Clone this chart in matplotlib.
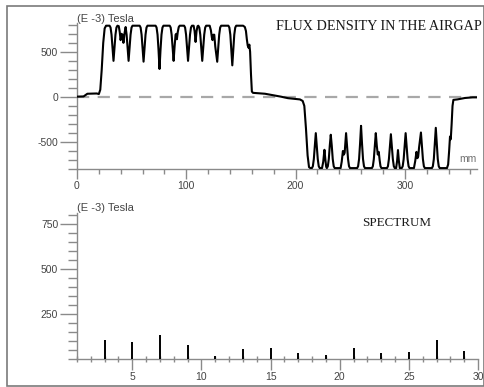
# Air-gap flux density along the stator bore and its harmonic spectrum

import matplotlib
matplotlib.use('Agg')
import matplotlib.pyplot as plt
from matplotlib.patches import Rectangle
from matplotlib.ticker import MultipleLocator

plt.rcParams['font.family'] = 'Liberation Sans'
plt.rcParams['axes.unicode_minus'] = False

# flux density trace: position (mm) and field (E-3 Tesla)
pos_mm = [
    0, 6, 9.5, 18, 20, 21.3, 22.6, 24, 25.3, 26.6,
    29.8, 30.7, 31.6, 32.5, 33.4, 34.3, 35.2, 36.1, 37,
    38.2, 39.1, 39.9, 40.8, 41.6, 42.5, 43.4, 44.5,
    45.4, 46.3, 47.2, 48.1, 49, 49.9, 50.8,
    57.3, 58.2, 59.1, 60, 60.9, 61.8, 62.7, 63.6, 64.5,
    71.9, 72.8, 73.7, 74.6, 75.5, 76.4, 77.3, 78.2, 79.1,
    84.8, 85.7, 86.6, 87.5, 88.4, 89.3, 90.2, 90.8, 91.4, 92.2, 93.1, 94,
    98, 98.9, 99.8, 100.7, 101.6, 102.5, 103.4, 104.3, 105.2,
    106.7, 107.6, 108.5, 109.4, 110.3,
    111, 111.9, 112.8, 113.7, 114.6, 115.5, 116.4, 117.3, 118.2,
    121.4, 122.5, 123.4, 124, 124.8, 125.6, 126.5, 127.4, 128.3, 129.2, 130.1, 131, 131.9,
    138.5, 139.4, 140.3, 141.2, 142.1, 143, 143.9, 144.8, 145.7,
    152, 153.6, 154.6, 155.4, 156.2, 157, 157.7, 158.4, 159.2, 160, 161,
    166, 172, 180, 186.5, 193, 198.8, 204, 206.5, 208, 209.5, 211, 212.3, 213.5,
    214.9, 215.8, 216.7, 217.6, 218.5, 219.4, 220.3, 221.2, 222.1,
    224.2, 225.3, 226.4, 227.3, 228,
    228.6, 229.5, 230.4, 231.3, 232.2, 233.1, 234, 234.9, 235.8,
    241.2, 242.2, 243.3, 244.2, 244.9, 245.5, 246.2, 247.1, 248, 248.9, 249.8,
    256.3, 257.2, 258.1, 259, 259.9, 260.8, 261.7, 262.6, 263.5,
    269.8, 270.7, 271.6, 272.5, 273.4, 274.3, 275.2, 276.1, 276.9, 277.7, 278.6,
    283.6, 284.5, 285.4, 286.3, 287.2, 288.1, 289, 289.9, 290.8,
    292, 292.9, 293.7, 294.5, 295.4,
    297.1, 298, 298.9, 299.8, 300.7, 301.6, 302.5, 303.4, 304.3,
    308.3, 309.5, 310.6, 311.5, 312.2, 313, 313.9, 314.7, 315.6, 316.5, 317.4, 318.3,
    324.7, 325.6, 326.5, 327.4, 328.3, 329.2, 330.1, 331, 331.9,
    338.5, 339.6, 340.5, 341.3, 342, 342.8, 343.6, 344.4, 348, 355, 362, 366,
]
flux = [
    3, 5, 35, 38, 32, 80, 300, 600, 760, 790,
    790, 770, 690, 540, 400, 540, 690, 770, 790,
    785, 720, 630, 700, 690, 600, 700, 775,
    690, 540, 400, 540, 690, 770, 790,
    790, 770, 690, 540, 391, 540, 690, 770, 790,
    790, 770, 690, 520, 310, 520, 690, 770, 790,
    790, 770, 690, 540, 400, 560, 690, 700, 640, 720, 775, 790,
    790, 770, 690, 540, 400, 540, 690, 770, 790,
    790, 730, 610, 730, 785,
    790, 770, 690, 540, 400, 540, 690, 770, 790,
    790, 740, 660, 630, 690, 690, 560, 470, 390, 540, 690, 770, 790,
    790, 770, 690, 520, 350, 520, 690, 770, 790,
    790, 775, 730, 640, 570, 545, 580, 500, 250, 60, 45,
    40, 35, 18, 3, -14, -22, -28, -45, -100, -350, -650, -780, -790,
    -790, -770, -690, -540, -402, -540, -690, -770, -790,
    -790, -720, -587, -700, -775,
    -790, -770, -690, -540, -420, -540, -690, -770, -790,
    -790, -720, -600, -640, -620, -520, -402, -540, -690, -770, -790,
    -790, -770, -690, -520, -321, -520, -690, -770, -790,
    -790, -770, -690, -540, -402, -540, -640, -610, -700, -770, -790,
    -790, -770, -690, -550, -414, -550, -690, -770, -790,
    -790, -710, -590, -710, -790,
    -790, -770, -690, -540, -402, -540, -690, -770, -790,
    -790, -710, -610, -680, -660, -560, -470, -395, -540, -690, -770, -790,
    -790, -770, -690, -520, -343, -520, -690, -770, -790,
    -790, -750, -600, -440, -470, -300, -100, -33, -28, -12, -5, -5,
]

# odd harmonic amplitudes (E-3 Tesla)
harmonic = [3, 5, 7, 9, 11, 13, 15, 17, 19, 21, 23, 25, 27, 29]
amplitude = [103, 92, 131, 80, 17, 56, 63, 35, 22, 60, 32, 37, 107, 45]

axis_grey = '#8a8a8a'
label_grey = '#444444'

fig = plt.figure(figsize=(4.85, 3.87), dpi=100)
fig.patches.append(Rectangle((7 / 485, 1 / 387), 477 / 485, 380 / 387,
                             transform=fig.transFigure, fill=False,
                             edgecolor='#7a7a7a', linewidth=1.2))


def style_axes(ax):
    for side in ('top', 'right'):
        ax.spines[side].set_visible(False)
    for side in ('left', 'bottom'):
        ax.spines[side].set_color(axis_grey)
        ax.spines[side].set_linewidth(1.0)
    ax.tick_params(which='both', colors=axis_grey, labelcolor=label_grey,
                   labelsize=7.5, width=1.0, pad=1.5)


# top: flux density along the air gap
ax1 = fig.add_axes([77 / 485, 1 - 169 / 387, 400 / 485, 146 / 387])
ax1.plot(pos_mm, flux, color='black', linewidth=1.5, zorder=3)
ax1.axhline(0, color='#a8a8a8', linewidth=1.6, dashes=(5.5, 3.8), zorder=2)
ax1.set_xlim(0, 366)
ax1.set_ylim(-800, 820)
style_axes(ax1)
ax1.xaxis.set_major_locator(MultipleLocator(100))
ax1.xaxis.set_minor_locator(MultipleLocator(20))
ax1.yaxis.set_major_locator(MultipleLocator(500))
ax1.yaxis.set_minor_locator(MultipleLocator(100))
ax1.tick_params(axis='x', which='major', length=7.5)
ax1.tick_params(axis='x', which='minor', length=3.6)
ax1.tick_params(axis='y', which='major', length=12)
ax1.tick_params(axis='y', which='minor', length=6.5)
ax1.text(0.0, 1.027, '(E -3) Tesla', transform=ax1.transAxes, fontsize=8,
         color=label_grey, ha='left', va='center')
ax1.text(1.0, 0.035, 'mm', transform=ax1.transAxes, fontsize=7.5,
         color='#707070', ha='right', va='bottom')
ax1.text(482 / 485, 1 - 26 / 387, 'FLUX DENSITY IN THE AIRGAP',
         transform=fig.transFigure, family='Liberation Serif', fontsize=10.2,
         color='#1a1a1a', ha='right', va='center')

# bottom: harmonic spectrum
ax2 = fig.add_axes([77 / 485, 1 - 359 / 387, 401 / 485, 146 / 387])
ax2.vlines(harmonic, 0, amplitude, color='black', linewidth=1.4, zorder=3)
ax2.set_xlim(1, 30)
ax2.set_ylim(0, 810)
style_axes(ax2)
ax2.xaxis.set_major_locator(MultipleLocator(5))
ax2.xaxis.set_minor_locator(MultipleLocator(1))
ax2.yaxis.set_major_locator(MultipleLocator(250))
ax2.yaxis.set_minor_locator(MultipleLocator(50))
ax2.set_yticks([250, 500, 750])
ax2.tick_params(axis='x', which='major', length=8)
ax2.tick_params(axis='x', which='minor', length=5, direction='inout')
ax2.tick_params(axis='y', which='major', length=12)
ax2.tick_params(axis='y', which='minor', length=6.5)
ax2.text(0.0, 1.034, '(E -3) Tesla', transform=ax2.transAxes, fontsize=8,
         color=label_grey, ha='left', va='center')
ax2.text(397 / 485, 1 - 223 / 387, 'SPECTRUM', transform=fig.transFigure,
         family='Liberation Serif', fontsize=9.4, color='#1a1a1a',
         ha='center', va='center')

fig.savefig('out.png', dpi=100, facecolor='white')
